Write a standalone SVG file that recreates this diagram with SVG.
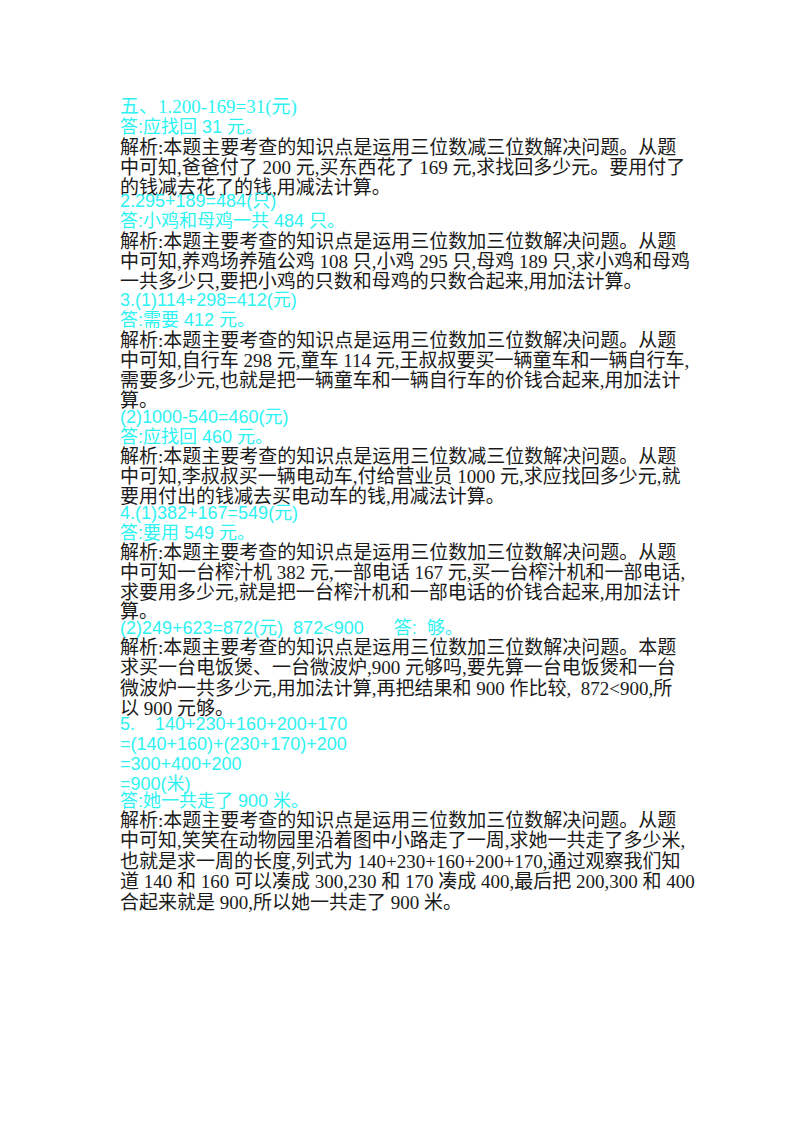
<svg xmlns="http://www.w3.org/2000/svg" width="800" height="1132" viewBox="0 0 800 1132">
<style>
text{font-family:"Liberation Serif","Noto Sans CJK SC",serif;font-size:19px;fill:#1a1a1a}
.c{fill:#2ef2f2;font-family:"Liberation Sans","Noto Sans CJK SC",sans-serif;font-size:18px}
.cs{fill:#2ef2f2}
</style>
<rect width="800" height="1132" fill="#fff"/>
<g id="text">
<text class="cs" x="120" y="113">五、1.200-169=31(元)</text>
<text class="c" x="120" y="133">答:应找回 31 元。</text>
<text x="120" y="154">解析:本题主要考查的知识点是运用三位数减三位数解决问题。从题</text>
<text x="120" y="174">中可知,爸爸付了 200 元,买东西花了 169 元,求找回多少元。要用付了</text>
<text x="120" y="194">的钱减去花了的钱,用减法计算。</text>
<text class="c" x="120" y="207">2.295+189=484(只)</text>
<text class="c" x="120" y="227">答:小鸡和母鸡一共 484 只。</text>
<text x="120" y="248">解析:本题主要考查的知识点是运用三位数加三位数解决问题。从题</text>
<text x="120" y="268">中可知,养鸡场养殖公鸡 108 只,小鸡 295 只,母鸡 189 只,求小鸡和母鸡</text>
<text x="120" y="288">一共多少只,要把小鸡的只数和母鸡的只数合起来,用加法计算。</text>
<text class="c" x="120" y="306">3.(1)114+298=412(元)</text>
<text class="c" x="120" y="326">答:需要 412 元。</text>
<text x="120" y="347">解析:本题主要考查的知识点是运用三位数加三位数解决问题。从题</text>
<text x="120" y="367">中可知,自行车 298 元,童车 114 元,王叔叔要买一辆童车和一辆自行车,</text>
<text x="120" y="387">需要多少元,也就是把一辆童车和一辆自行车的价钱合起来,用加法计</text>
<text x="120" y="407">算。</text>
<text class="c" x="120" y="423">(2)1000-540=460(元)</text>
<text class="c" x="120" y="443">答:应找回 460 元。</text>
<text x="120" y="463">解析:本题主要考查的知识点是运用三位数减三位数解决问题。从题</text>
<text x="120" y="483">中可知,李叔叔买一辆电动车,付给营业员 1000 元,求应找回多少元,就</text>
<text x="120" y="503">要用付出的钱减去买电动车的钱,用减法计算。</text>
<text class="c" x="120" y="519">4.(1)382+167=549(元)</text>
<text class="c" x="120" y="539">答:要用 549 元。</text>
<text x="120" y="559">解析:本题主要考查的知识点是运用三位数加三位数解决问题。从题</text>
<text x="120" y="579">中可知一台榨汁机 382 元,一部电话 167 元,买一台榨汁机和一部电话,</text>
<text x="120" y="599">求要用多少元,就是把一台榨汁机和一部电话的价钱合起来,用加法计</text>
<text x="120" y="618">算。</text>
<text class="c" x="120" y="634" xml:space="preserve">(2)249+623=872(元)  872&lt;900      答:  够。</text>
<text x="120" y="654">解析:本题主要考查的知识点是运用三位数加三位数解决问题。本题</text>
<text x="120" y="674">求买一台电饭煲、一台微波炉,900 元够吗,要先算一台电饭煲和一台</text>
<text x="120" y="695" xml:space="preserve">微波炉一共多少元,用加法计算,再把结果和 900 作比较,  872&lt;900,所</text>
<text x="120" y="715">以 900 元够。</text>
<text class="c" x="120" y="730" xml:space="preserve">5.    140+230+160+200+170</text>
<text class="c" x="120" y="750">=(140+160)+(230+170)+200</text>
<text class="c" x="120" y="770">=300+400+200</text>
<text class="c" x="120" y="790">=900(米)</text>
<text class="c" x="120" y="807">答:她一共走了 900 米。</text>
<text x="120" y="827">解析:本题主要考查的知识点是运用三位数加三位数解决问题。从题</text>
<text x="120" y="847">中可知,笑笑在动物园里沿着图中小路走了一周,求她一共走了多少米,</text>
<text x="120" y="868">也就是求一周的长度,列式为 140+230+160+200+170,通过观察我们知</text>
<text x="120" y="888">道 140 和 160 可以凑成 300,230 和 170 凑成 400,最后把 200,300 和 400</text>
<text x="120" y="909">合起来就是 900,所以她一共走了 900 米。</text>
</g>
</svg>
